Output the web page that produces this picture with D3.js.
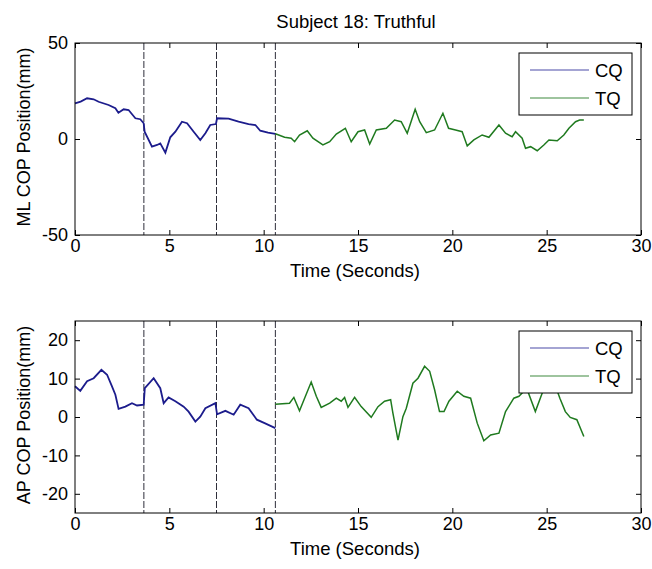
<!DOCTYPE html>
<html>
<head>
<meta charset="utf-8">
<script src="https://cdn.jsdelivr.net/npm/d3@7"></script>
<style>
  body { margin: 0; background: #fff; }
  text { font-family: 'Liberation Sans', Arial, sans-serif; }
</style>
</head>
<body>
<script>
// ML (top) readings, time in seconds
const mlCQTime = [0, 0.3, 0.64, 0.99, 1.25, 1.78, 2.14, 2.3, 2.58, 2.84, 3.2, 3.46, 3.64, 3.69, 4.08, 4.35, 4.52, 4.79, 5.05, 5.32, 5.67, 5.94, 6.29, 6.64, 6.91, 7.17, 7.47, 7.53, 8.14, 8.67, 9.2, 9.56, 9.82, 10.23, 10.62];
const mlCQ = [18.6, 19.5, 21.2, 20.7, 19.4, 17.7, 16, 13.7, 15.5, 15.1, 10.8, 10.3, 8.2, 3.8, -4, -3.1, -2.3, -7.1, 0.9, 3.8, 9, 8.2, 3.8, -0.5, 3, 7.3, 7.8, 10.8, 10.6, 9, 7.8, 7.3, 4.3, 3.3, 2.7];
const mlTQTime = [10.62, 11.11, 11.46, 11.64, 11.9, 12.31, 12.61, 13.14, 13.5, 13.85, 14.33, 14.64, 15, 15.35, 15.62, 15.97, 16.5, 16.94, 17.29, 17.61, 18.03, 18.27, 18.62, 19.06, 19.5, 19.8, 20.17, 20.52, 20.79, 21.14, 21.58, 21.94, 22.47, 22.82, 23.17, 23.35, 23.7, 23.88, 24.15, 24.5, 24.85, 25.12, 25.56, 25.91, 26.18, 26.53, 26.75, 26.97];
const mlTQ = [2.7, 0.9, 0.4, -1.4, 2.1, 4.3, 0.4, -3.1, -1.4, 2.6, 5.6, -1.4, 3.8, 4.7, -2.6, 4.7, 5.6, 9.9, 9, 3, 15.5, 9, 3.3, 4.7, 13.4, 5.6, 4.7, 3.8, -3.6, -0.5, 2.1, 0.9, 7.3, 3, 1.2, 3.8, 0.4, -4.8, -4, -6.1, -3.1, -0.5, -0.9, 2.1, 5.6, 9, 9.9, 9.9];

// AP (bottom) readings
const apCQTime = [0, 0.28, 0.64, 0.99, 1.4, 1.7, 1.96, 2.14, 2.31, 2.67, 3.02, 3.29, 3.64, 3.7, 4.17, 4.52, 4.7, 4.96, 5.32, 5.76, 6.02, 6.38, 6.64, 6.91, 7.44, 7.53, 7.97, 8.41, 8.76, 9.2, 9.64, 10.05, 10.62];
const apCQ = [8, 6.8, 9.3, 10.1, 12.3, 11, 8, 5.8, 2.1, 2.7, 3.6, 3, 3.2, 7.5, 10.1, 7.5, 3.6, 5.1, 4.1, 2.7, 1.4, -1.2, 0.1, 2.3, 3.6, 0.7, 1.6, 0.6, 3.2, 2.3, -0.7, -1.6, -2.9];
const apTQTime = [10.62, 11.37, 11.6, 11.9, 12.17, 12.52, 12.79, 13.05, 13.5, 13.85, 14.11, 14.29, 14.47, 14.82, 15.17, 15.7, 16.06, 16.41, 16.73, 16.85, 17.12, 17.38, 17.56, 17.91, 18.18, 18.53, 18.8, 19.06, 19.32, 19.56, 19.82, 20.26, 20.61, 20.97, 21.32, 21.67, 22.03, 22.47, 22.82, 23.26, 23.53, 23.94, 24.4, 24.76, 25.1, 25.4, 25.7, 25.99, 26.25, 26.6, 26.97];
const apTQ = [3.3, 3.6, 5.1, 1.6, 4.9, 9.1, 5.4, 2.5, 3.6, 4.9, 4.1, 5.1, 2.5, 5.1, 2.7, -0.1, 2.7, 4.1, 4.5, 1, -6, 0.1, 2.3, 8.8, 10.1, 13.2, 11.9, 7.1, 1.4, 1.4, 4.1, 6.7, 5.4, 4.9, -1.6, -6.2, -4.7, -4.2, 1.4, 4.9, 5.4, 7.5, 1.4, 6.2, 10, 9, 4.9, 1.4, -0.1, -0.7, -5.1];

// question boundaries
const markers = [3.65, 7.5, 10.62];

const xTicks = [0, 5, 10, 15, 20, 25, 30];
const mlTicks = [-50, 0, 50];
const apTicks = [-20, -10, 0, 10, 20];
const seriesNames = ['CQ', 'TQ'];

const width = 652;
const height = 569;
const cqColor = '#1c1c8c';
const tqColor = '#1f7a1f';

const svg = d3.select('body')
  .append('svg')
  .attr('width', width)
  .attr('height', height);

svg.append('text')
  .attr('x', 356)
  .attr('y', 28)
  .attr('font-size', 18.5)
  .style('text-anchor', 'middle')
  .text('Subject 18: Truthful');

const panel = (top, yDomain, yTicks, yLabel, cq, cqT, tq, tqT) => {
  const left = 75;
  const w = 566;
  const h = 192;

  const x = d3.scaleLinear().domain([0, 30]).range([0, w]);
  const y = d3.scaleLinear().domain(yDomain).range([h, 0]);

  const g = svg.append('g')
    .attr('transform', `translate(${left}, ${top})`);

  g.append('rect')
    .attr('width', w)
    .attr('height', h)
    .attr('fill', '#fff');

  // axes, ticks inside like matlab
  const styleAxis = (sel) => {
    sel.select('.domain').remove();
    sel.selectAll('line').attr('stroke', '#000');
    sel.selectAll('text').attr('font-size', 18).attr('fill', '#000');
  };

  g.append('g')
    .attr('transform', `translate(0, ${h})`)
    .call(d3.axisBottom(x).tickValues(xTicks).tickSizeInner(-5).tickSizeOuter(0).tickPadding(4))
    .call(styleAxis);

  g.append('g')
    .call(d3.axisTop(x).tickValues(xTicks).tickSizeInner(-5).tickSizeOuter(0).tickFormat(''))
    .call(styleAxis);

  g.append('g')
    .call(d3.axisLeft(y).tickValues(yTicks).tickSizeInner(-5).tickSizeOuter(0).tickPadding(7).tickFormat((d) => String(d)))
    .call(styleAxis);

  g.append('g')
    .attr('transform', `translate(${w}, 0)`)
    .call(d3.axisRight(y).tickValues(yTicks).tickSizeInner(-5).tickSizeOuter(0).tickFormat(''))
    .call(styleAxis);

  // dashed boundary lines
  g.selectAll('.marker')
    .data(markers)
    .join('line')
    .attr('class', 'marker')
    .attr('x1', (d) => x(d))
    .attr('x2', (d) => x(d))
    .attr('y1', 0)
    .attr('y2', h)
    .attr('stroke', '#2e2e3a')
    .attr('stroke-width', 1)
    .attr('stroke-dasharray', '7,2');

  const line = d3.line()
    .x((d) => x(d[0]))
    .y((d) => y(d[1]));

  g.append('path')
    .datum(d3.zip(cqT, cq))
    .attr('fill', 'none')
    .attr('stroke', cqColor)
    .attr('stroke-width', 1.8)
    .attr('d', line);

  g.append('path')
    .datum(d3.zip(tqT, tq))
    .attr('fill', 'none')
    .attr('stroke', tqColor)
    .attr('stroke-width', 1.5)
    .attr('d', line);

  // legend
  const lg = g.append('g')
    .attr('transform', 'translate(444, 10)');

  lg.append('rect')
    .attr('width', 113)
    .attr('height', 62)
    .attr('fill', '#fff')
    .attr('stroke', '#000');

  lg.selectAll('.item')
    .data(seriesNames)
    .join('g')
    .attr('class', 'item')
    .attr('transform', (d, i) => `translate(0, ${17 + i * 28})`)
    .each(function (d, i) {
      const it = d3.select(this);
      it.append('line')
        .attr('x1', 11)
        .attr('x2', 70)
        .attr('stroke', i === 0 ? '#4b4ba8' : '#3f8a3f')
        .attr('stroke-width', 1.2);
      it.append('text')
        .attr('x', 76)
        .attr('dy', '0.36em')
        .attr('font-size', 18.5)
        .text(d);
    });

  g.append('rect')
    .attr('width', w)
    .attr('height', h)
    .attr('fill', 'none')
    .attr('stroke', '#000');

  svg.append('text')
    .attr('x', 355)
    .attr('y', top + h + 42)
    .attr('font-size', 18.5)
    .style('text-anchor', 'middle')
    .text('Time (Seconds)');

  svg.append('text')
    .attr('transform', 'rotate(-90)')
    .attr('x', -(top + h / 2) + 2)
    .attr('y', 30)
    .attr('font-size', 18)
    .style('text-anchor', 'middle')
    .text(yLabel);
};

panel(43, [-50, 50], mlTicks, 'ML COP Position(mm)', mlCQ, mlCQTime, mlTQ, mlTQTime);
panel(321, [-25, 25], apTicks, 'AP COP Position(mm)', apCQ, apCQTime, apTQ, apTQTime);
</script>
</body>
</html>
